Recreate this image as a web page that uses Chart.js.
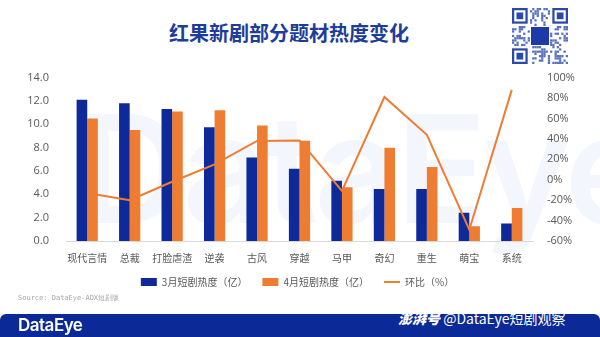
<!DOCTYPE html>
<html>
<head>
<meta charset="utf-8">
<script src="https://cdn.jsdelivr.net/npm/chart.js@4.4.1/dist/chart.umd.min.js"></script>
<style>
  html, body { margin: 0; padding: 0; background: #fff; }
  body { width: 600px; height: 337px; position: relative; overflow: hidden;
         font-family: "Noto Sans CJK SC", "Noto Sans", sans-serif; }
  .title { position: absolute; left: 0; width: 578px; top: 18px; text-align: center;
           font-size: 20px; font-weight: bold; color: #1d3c9b; }
  .watermark { position: absolute; left: 78px; top: 94px; font-family: "Inter", sans-serif;
               font-size: 150px; font-weight: 600; color: #f3f6fc; letter-spacing: -4px; line-height: 1; }
  .chart-box { position: absolute; left: 0; top: 62px; width: 600px; height: 235px; }
  #qr { position: absolute; left: 512px; top: 8px; }
  .source { position: absolute; left: 18px; top: 293px; font-size: 7px; color: #a6a6a6;
            font-family: "DejaVu Sans Mono", monospace; }
  .banner { position: absolute; left: 0; top: 314px; width: 600px; height: 30px;
            background: #0b2a98; border-radius: 6px; }
  .brand { position: absolute; left: 18px; top: 314px; font-family: "Inter", sans-serif;
           font-size: 17px; font-weight: 600; color: #fff; letter-spacing: -0.5px; line-height: 22px; }
  .handle { position: absolute; left: 398px; top: 309px; font-size: 14px; color: #fff; line-height: 18px; }
  .handle b { font-style: italic; font-weight: 900; }
</style>
</head>
<body>
<div class="watermark">DataEye</div>
<div class="title">红果新剧部分题材热度变化</div>
<canvas id="qr" width="56" height="57"></canvas>
<div class="chart-box"><canvas id="heatChart"></canvas></div>
<div class="source">Source: DataEye-ADX短剧版</div>
<div class="banner"></div>
<div class="brand">DataEye</div>
<div class="handle"><b>澎湃号</b> @DataEye短剧观察</div>
<script>
// genres and heat values (亿), month-over-month change (%)
const genres = ['现代言情', '总裁', '打脸虐渣', '逆袭', '古风', '穿越', '马甲', '奇幻', '重生', '萌宝', '系统'];
const marchHeat = [12.1, 11.8, 11.3, 9.75, 7.15, 6.2, 5.17, 4.45, 4.45, 2.43, 1.5];
const aprilHeat = [10.5, 9.5, 11.1, 11.2, 9.9, 8.6, 4.6, 8.0, 6.35, 1.26, 2.82];
const momChange = [-13, -20, -2, 15, 38, 38.5, -11, 81, 44, -49, 88];

const BLUE = '#0e2a9a';
const ORANGE = '#ef7d31';

// little QR-style badge in the header
function drawBadge() {
    const c = document.getElementById('qr');
    const g = c.getContext('2d');
    const n = 25, s = 56 / n;
    g.fillStyle = '#fff';
    g.fillRect(0, 0, 56, 57);
    g.fillStyle = '#5670bd';
    let seed = 7;
    for (let r = 0; r < n; r++) {
        for (let col = 0; col < n; col++) {
            seed = (seed * 1103515245 + 12345) & 0x7fffffff;
            if ((seed >> 16) % 5 < 2) g.fillRect(col * s, r * s, s, s);
        }
    }
    const finder = (x, y) => {
        g.fillStyle = '#fff'; g.fillRect(x - s, y - s, 9 * s, 9 * s);
        g.fillStyle = '#2b49a8'; g.fillRect(x, y, 7 * s, 7 * s);
        g.fillStyle = '#fff'; g.fillRect(x + s, y + s, 5 * s, 5 * s);
        g.fillStyle = '#2b49a8'; g.fillRect(x + 2 * s, y + 2 * s, 3 * s, 3 * s);
    };
    finder(0, 0); finder(18 * s, 0); finder(0, 18 * s);
    g.fillStyle = '#fff'; g.fillRect(18, 18, 20, 20);
    g.fillStyle = '#1e3aa8'; g.fillRect(19, 19, 18, 18);
}
drawBadge();

const tickFont = { family: '"Open Sans", "Noto Sans", sans-serif', size: 11 };

new Chart(document.getElementById('heatChart'), {
    data: {
        labels: genres,
        datasets: [
            {
                type: 'line',
                label: '环比（%）',
                data: momChange,
                yAxisID: 'yPct',
                borderColor: ORANGE,
                backgroundColor: ORANGE,
                borderWidth: 2,
                pointRadius: 0,
                tension: 0,
                pointStyle: 'line',
                order: 0
            },
            {
                type: 'bar',
                label: '3月短剧热度（亿）',
                data: marchHeat,
                yAxisID: 'yHeat',
                backgroundColor: BLUE,
                pointStyle: 'rect',
                categoryPercentage: 0.5,
                barPercentage: 1.0,
                order: 1
            },
            {
                type: 'bar',
                label: '4月短剧热度（亿）',
                data: aprilHeat,
                yAxisID: 'yHeat',
                backgroundColor: ORANGE,
                pointStyle: 'rect',
                categoryPercentage: 0.5,
                barPercentage: 1.0,
                order: 1
            }
        ]
    },
    options: {
        responsive: true,
        maintainAspectRatio: false,
        animation: false,
        layout: { padding: { top: 6, left: 0, right: 0, bottom: 0 } },
        plugins: {
            legend: {
                position: 'bottom',
                labels: {
                    usePointStyle: true,
                    pointStyleWidth: 16,
                    boxHeight: 8,
                    padding: 10,
                    color: '#595959',
                    font: { family: '"Noto Sans CJK SC", sans-serif', size: 10 },
                    // extra trailing gap between legend entries
                    generateLabels: chart => {
                        const items = Chart.defaults.plugins.legend.labels.generateLabels(chart);
                        items.forEach(it => { it.text = it.text + '\u3000'; });
                        return items;
                    },
                    sort: (a, b) => {
                        const rank = [2, 0, 1];
                        return rank[a.datasetIndex] - rank[b.datasetIndex];
                    }
                }
            },
            tooltip: { enabled: false }
        },
        scales: {
            x: {
                grid: { display: false },
                border: { color: '#d9d9d9' },
                ticks: {
                    color: '#595959',
                    font: { family: '"Noto Sans CJK SC", sans-serif', size: 10 },
                    maxRotation: 0,
                    autoSkip: false,
                    padding: 3
                }
            },
            yHeat: {
                position: 'left',
                min: 0,
                max: 14,
                grid: { display: false },
                border: { display: false },
                ticks: {
                    stepSize: 2,
                    color: '#595959',
                    font: tickFont,
                    padding: 9,
                    callback: v => v.toFixed(1)
                },
                afterFit: scale => { scale.width = 66; }
            },
            yPct: {
                position: 'right',
                min: -60,
                max: 100,
                grid: { display: false },
                border: { display: false },
                ticks: {
                    stepSize: 20,
                    color: '#595959',
                    font: tickFont,
                    padding: 6,
                    callback: v => v + '%'
                },
                afterFit: scale => { scale.width = 67; }
            }
        }
    }
});
</script>
</body>
</html>
